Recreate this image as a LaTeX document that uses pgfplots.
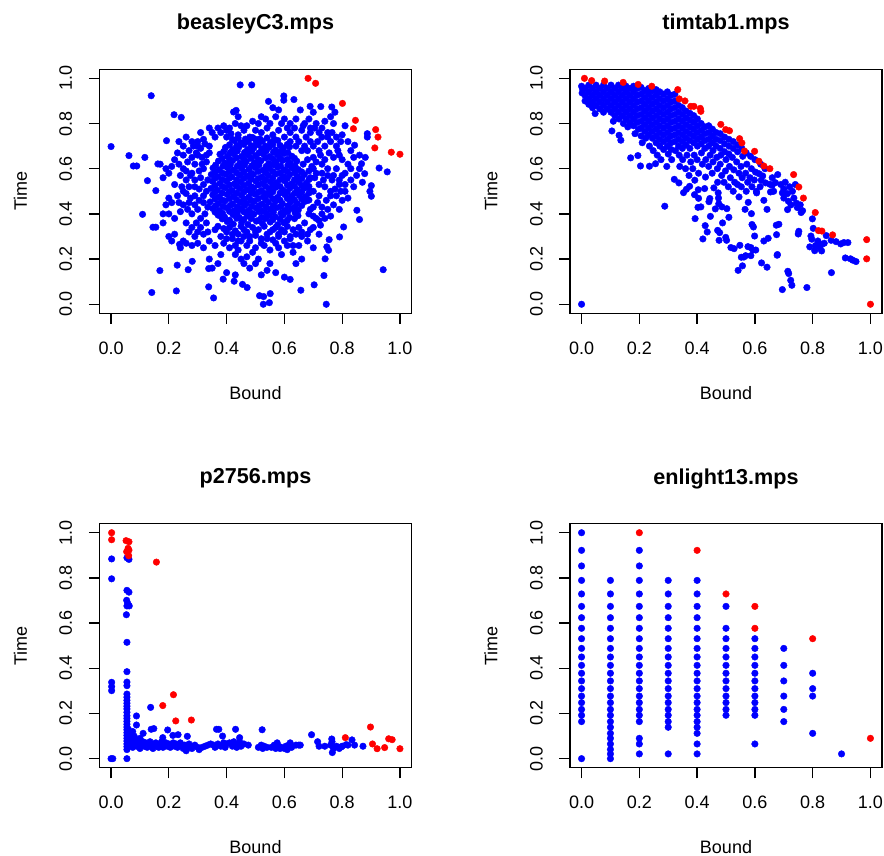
\documentclass[border=0pt]{standalone}
\usepackage{pgfplots}
\pgfplotsset{compat=1.18}
\usepackage{fontspec}
\setmainfont{Liberation Sans}

\pgfplotsset{
  rpanel/.style={
    scale only axis, width=312pt, height=244pt, anchor=south west,
    xmin=-0.04, xmax=1.04, ymin=-0.04, ymax=1.04,
    clip=false,
    axis line style={line width=1.3pt},
    every tick/.style={line width=1.3pt, black},
    tick pos=left, tick align=outside, major tick length=10.7pt,
    xtick={0,0.2,0.4,0.6,0.8,1}, ytick={0,0.2,0.4,0.6,0.8,1},
    xticklabels={0.0,0.2,0.4,0.6,0.8,1.0},
    yticklabels={0.0,0.2,0.4,0.6,0.8,1.0},
    tick label style={font=\fontsize{18}{18}\selectfont},
    xticklabel style={anchor=center, yshift=-24pt},
    yticklabel style={anchor=center, xshift=-23pt, rotate=90},
    xlabel=Bound, ylabel=Time,
    every axis x label/.style={at={(axis description cs:0.5,-0.3254)}, anchor=center,
      font=\fontsize{18}{18}\selectfont},
    every axis y label/.style={at={(axis description cs:-0.2532,0.5)}, anchor=center,
      rotate=90, font=\fontsize{18}{18}\selectfont},
    every axis title/.style={at={(axis description cs:0.5,1.1844)}, anchor=center,
      font=\bfseries\fontsize{21.6}{22}\selectfont},
  },
  bl/.style={only marks, mark=*, mark size=3.3pt, draw=blue, fill=blue,
    mark options={draw=blue, fill=blue}},
  rd/.style={only marks, mark=*, mark size=3.3pt, draw=red, fill=red,
    mark options={draw=red, fill=red}},
}

\begin{document}
\begin{tikzpicture}
\path[use as bounding box] (0pt,0pt) rectangle (884pt,856pt);

% ---------------- beasleyC3 ----------------
\begin{axis}[rpanel, at={(99.5pt,542.7pt)}, title={beasleyC3.mps}]
\addplot[bl] coordinates {
(0,0.698) (0.139,0.923) (0.447,0.971) (0.487,0.971) (0.062,0.658) (0.077,0.612) (0.089,0.612)
(0.117,0.650) (0.126,0.547) (0.109,0.398) (0.141,0.052) (0.145,0.341) (0.155,0.341) (0.155,0.503)
(0.169,0.149) (0.162,0.621) (0.226,0.059) (0.229,0.173) (0.192,0.724) (0.218,0.839) (0.243,0.827)
(0.267,0.153) (0.281,0.190) (0.237,0.265) (0.338,0.077) (0.355,0.028) (0.338,0.158) (0.942,0.153)
(0.745,0.0) (0.527,0.0) (0.548,0.007) (0.551,0.047) (0.514,0.038) (0.528,0.034) (0.657,0.062)
(0.703,0.086) (0.737,0.127) (0.471,0.074) (0.455,0.088) (0.426,0.102) (0.388,0.111) (0.928,0.603)
(0.956,0.586) (0.901,0.525) (0.896,0.500) (0.901,0.478) (0.870,0.540) (0.851,0.416) (0.860,0.375)
(0.805,0.342) (0.791,0.298) (0.755,0.286) (0.747,0.254) (0.753,0.239) (0.741,0.201) (0.887,0.755)
(0.887,0.740) (0.843,0.704) (0.764,0.873) (0.726,0.875) (0.689,0.876) (0.633,0.906) (0.598,0.922)
(0.598,0.903) (0.545,0.898) (0.424,0.851) (0.433,0.858) (0.878,0.578) (0.867,0.622)
(0.19,0.60) (0.20,0.58) (0.21,0.61) (0.18,0.56) (0.17,0.62) (0.22,0.64) (0.23,0.67) (0.25,0.66)
(0.24,0.57) (0.26,0.55) (0.22,0.53) (0.20,0.47) (0.21,0.45) (0.19,0.44) (0.18,0.40) (0.20,0.40)
(0.22,0.38) (0.24,0.41) (0.23,0.48) (0.25,0.50) (0.27,0.52) (0.28,0.58) (0.29,0.62) (0.30,0.70)
(0.28,0.72) (0.26,0.74) (0.31,0.76) (0.30,0.66) (0.31,0.56) (0.29,0.48) (0.27,0.45) (0.28,0.40)
(0.26,0.36) (0.27,0.32) (0.29,0.30) (0.25,0.28) (0.22,0.31) (0.20,0.30) (0.21,0.28) (0.18,0.36)
(0.31,0.34) (0.30,0.42) (0.32,0.45) (0.33,0.50) (0.32,0.60) (0.33,0.66) (0.32,0.73) (0.34,0.70)
(0.30,0.27) (0.32,0.25) (0.34,0.28) (0.33,0.36) (0.28,0.26) (0.24,0.25) (0.26,0.27)
(0.67,0.70) (0.69,0.72) (0.70,0.65) (0.72,0.68) (0.74,0.70) (0.76,0.72) (0.78,0.70) (0.79,0.66)
(0.80,0.64) (0.82,0.62) (0.83,0.60) (0.84,0.65) (0.81,0.58) (0.79,0.55) (0.77,0.57) (0.75,0.60)
(0.73,0.62) (0.71,0.58) (0.69,0.56) (0.68,0.52) (0.70,0.50) (0.72,0.48) (0.74,0.52) (0.76,0.50)
(0.78,0.48) (0.80,0.46) (0.77,0.44) (0.75,0.42) (0.73,0.40) (0.71,0.38) (0.69,0.42) (0.68,0.46)
(0.67,0.36) (0.70,0.34) (0.72,0.37) (0.74,0.38) (0.76,0.39) (0.81,0.50) (0.83,0.55) (0.85,0.57)
(0.86,0.60) (0.84,0.52) (0.82,0.47) (0.79,0.42) (0.66,0.30) (0.68,0.28) (0.70,0.25) (0.72,0.31)
(0.65,0.26) (0.63,0.23) (0.66,0.20) (0.64,0.18) (0.71,0.80) (0.73,0.78) (0.75,0.76) (0.69,0.78)
(0.77,0.80) (0.80,0.75) (0.82,0.72) (0.83,0.68) (0.86,0.66) (0.88,0.65) (0.81,0.79)
(0.36,0.74) (0.38,0.76) (0.40,0.74) (0.42,0.73) (0.44,0.75) (0.46,0.77) (0.48,0.74) (0.50,0.73)
(0.52,0.76) (0.54,0.78) (0.56,0.75) (0.58,0.77) (0.60,0.74) (0.62,0.76) (0.64,0.74) (0.66,0.77)
(0.55,0.80) (0.57,0.83) (0.60,0.82) (0.62,0.80) (0.45,0.79) (0.49,0.81) (0.52,0.83) (0.41,0.78)
(0.37,0.78) (0.64,0.82) (0.67,0.80) (0.47,0.72)
(0.36,0.33) (0.38,0.30) (0.40,0.32) (0.42,0.29) (0.44,0.31) (0.46,0.33) (0.48,0.30) (0.50,0.32)
(0.52,0.29) (0.54,0.31) (0.56,0.33) (0.58,0.30) (0.60,0.32) (0.62,0.29) (0.64,0.31) (0.39,0.27)
(0.41,0.25) (0.43,0.22) (0.45,0.20) (0.44,0.24) (0.47,0.26) (0.49,0.23) (0.51,0.20) (0.53,0.26)
(0.55,0.24) (0.57,0.27) (0.59,0.22) (0.61,0.26) (0.46,0.18) (0.48,0.16) (0.50,0.18) (0.54,0.15)
(0.57,0.14) (0.60,0.12) (0.62,0.11) (0.38,0.22) (0.37,0.18) (0.35,0.16) (0.40,0.14) (0.43,0.13)
(0.52,0.13) (0.55,0.18) (0.36,0.26) (0.34,0.20) (0.47,0.21) (0.45,0.28)
(0.402,0.366) (0.423,0.355) (0.452,0.362) (0.474,0.353) (0.503,0.368) (0.524,0.357) (0.551,0.364) (0.577,0.352) (0.598,0.361)
(0.371,0.394) (0.393,0.386) (0.422,0.397) (0.444,0.384) (0.472,0.392) (0.494,0.398) (0.521,0.385) (0.547,0.393) (0.568,0.387) (0.596,0.396) (0.618,0.384) (0.647,0.392)
(0.352,0.424) (0.374,0.415) (0.401,0.427) (0.426,0.414) (0.449,0.423) (0.477,0.416) (0.502,0.426) (0.523,0.413) (0.552,0.421) (0.574,0.428) (0.601,0.415) (0.627,0.424) (0.648,0.417)
(0.343,0.453) (0.372,0.446) (0.394,0.457) (0.421,0.444) (0.447,0.452) (0.469,0.447) (0.496,0.455) (0.522,0.443) (0.544,0.451) (0.571,0.458) (0.593,0.445) (0.622,0.453) (0.644,0.446) (0.671,0.455)
(0.352,0.484) (0.373,0.475) (0.402,0.486) (0.424,0.477) (0.451,0.483) (0.476,0.474) (0.498,0.487) (0.527,0.476) (0.549,0.484) (0.576,0.473) (0.602,0.485) (0.624,0.478) (0.652,0.482) (0.674,0.476)
(0.346,0.513) (0.368,0.505) (0.396,0.516) (0.419,0.504) (0.446,0.512) (0.471,0.507) (0.494,0.515) (0.521,0.503) (0.547,0.511) (0.569,0.517) (0.596,0.505) (0.619,0.514) (0.646,0.506) (0.668,0.513)
(0.351,0.544) (0.377,0.535) (0.399,0.546) (0.427,0.533) (0.448,0.542) (0.476,0.536) (0.501,0.545) (0.524,0.534) (0.552,0.543) (0.573,0.537) (0.601,0.546) (0.626,0.534) (0.649,0.542) (0.676,0.536)
(0.347,0.574) (0.369,0.565) (0.397,0.576) (0.418,0.564) (0.446,0.572) (0.472,0.566) (0.493,0.575) (0.522,0.563) (0.544,0.571) (0.571,0.577) (0.597,0.565) (0.618,0.573) (0.646,0.566) (0.669,0.574)
(0.353,0.603) (0.374,0.595) (0.402,0.606) (0.423,0.594) (0.451,0.602) (0.477,0.597) (0.499,0.605) (0.526,0.593) (0.548,0.601) (0.576,0.607) (0.599,0.595) (0.627,0.603) (0.648,0.596)
(0.372,0.634) (0.394,0.625) (0.421,0.636) (0.446,0.624) (0.468,0.632) (0.497,0.626) (0.519,0.635) (0.546,0.623) (0.572,0.631) (0.594,0.637) (0.621,0.625) (0.643,0.633)
(0.377,0.664) (0.403,0.655) (0.424,0.666) (0.452,0.654) (0.473,0.662) (0.501,0.657) (0.527,0.665) (0.549,0.653) (0.576,0.661) (0.598,0.667) (0.626,0.655)
(0.396,0.694) (0.421,0.685) (0.443,0.696) (0.472,0.684) (0.494,0.692) (0.522,0.687) (0.547,0.695) (0.569,0.683) (0.597,0.691) (0.618,0.697)
(0.427,0.724) (0.449,0.715) (0.476,0.726) (0.503,0.714) (0.524,0.722) (0.552,0.716) (0.577,0.725)
};
\addplot[bl] coordinates {
(0.385,0.378) (0.41,0.372) (0.435,0.381) (0.46,0.375) (0.485,0.379) (0.51,0.371) (0.535,0.38) (0.56,0.374) (0.585,0.377) (0.61,0.372) (0.635,0.379)
(0.36,0.408) (0.386,0.403) (0.41,0.411) (0.437,0.405) (0.46,0.409) (0.488,0.402) (0.512,0.41) (0.537,0.404) (0.562,0.408) (0.588,0.403) (0.612,0.41) (0.637,0.405)
(0.362,0.436) (0.388,0.432) (0.413,0.438) (0.437,0.431) (0.462,0.437) (0.487,0.433) (0.512,0.436) (0.537,0.43) (0.562,0.438) (0.587,0.432) (0.612,0.436) (0.637,0.431) (0.66,0.437)
(0.36,0.466) (0.385,0.461) (0.41,0.468) (0.435,0.462) (0.46,0.466) (0.485,0.46) (0.51,0.468) (0.535,0.463) (0.56,0.467) (0.585,0.461) (0.61,0.468) (0.635,0.462) (0.66,0.466) (0.685,0.461)
(0.36,0.497) (0.385,0.492) (0.41,0.498) (0.435,0.491) (0.46,0.497) (0.485,0.493) (0.51,0.496) (0.535,0.49) (0.56,0.498) (0.585,0.492) (0.61,0.497) (0.635,0.491) (0.66,0.496) (0.685,0.492)
(0.36,0.526) (0.385,0.521) (0.41,0.528) (0.435,0.522) (0.46,0.526) (0.485,0.52) (0.51,0.528) (0.535,0.523) (0.56,0.527) (0.585,0.521) (0.61,0.528) (0.635,0.522) (0.66,0.526) (0.685,0.521)
(0.36,0.557) (0.385,0.552) (0.41,0.558) (0.435,0.551) (0.46,0.557) (0.485,0.553) (0.51,0.556) (0.535,0.55) (0.56,0.558) (0.585,0.552) (0.61,0.557) (0.635,0.551) (0.66,0.556) (0.685,0.552)
(0.36,0.586) (0.385,0.581) (0.41,0.588) (0.435,0.582) (0.46,0.586) (0.485,0.58) (0.51,0.588) (0.535,0.583) (0.56,0.587) (0.585,0.581) (0.61,0.588) (0.635,0.582) (0.66,0.586)
(0.362,0.616) (0.388,0.612) (0.413,0.618) (0.437,0.611) (0.462,0.617) (0.487,0.613) (0.512,0.616) (0.537,0.61) (0.562,0.618) (0.587,0.612) (0.612,0.616) (0.637,0.611)
(0.385,0.646) (0.41,0.641) (0.435,0.648) (0.46,0.642) (0.485,0.646) (0.51,0.64) (0.535,0.648) (0.56,0.643) (0.585,0.647) (0.61,0.641) (0.635,0.646)
(0.39,0.676) (0.412,0.671) (0.437,0.678) (0.462,0.672) (0.487,0.676) (0.512,0.67) (0.537,0.678) (0.562,0.673) (0.587,0.677) (0.612,0.671)
(0.41,0.706) (0.435,0.701) (0.46,0.708) (0.485,0.702) (0.51,0.706) (0.535,0.7) (0.56,0.708) (0.585,0.703) (0.61,0.707)
(0.44,0.736) (0.465,0.731) (0.49,0.738) (0.515,0.732) (0.54,0.736) (0.565,0.73)
(0.665,0.62) (0.68,0.64) (0.695,0.61) (0.71,0.63) (0.725,0.66) (0.74,0.64) (0.755,0.67) (0.77,0.65)
(0.785,0.68) (0.68,0.68) (0.70,0.70) (0.715,0.72) (0.73,0.74) (0.75,0.74) (0.765,0.76) (0.78,0.74)
(0.795,0.72) (0.675,0.74) (0.69,0.76) (0.705,0.78) (0.72,0.76) (0.74,0.81) (0.76,0.83) (0.775,0.85)
(0.70,0.85) (0.685,0.82) (0.655,0.86) (0.665,0.79) (0.65,0.72) (0.66,0.68) (0.64,0.70) (0.62,0.72)
(0.635,0.78) (0.61,0.78) (0.59,0.80) (0.58,0.86) (0.56,0.87) (0.535,0.82) (0.51,0.80) (0.50,0.77)
(0.47,0.79) (0.43,0.80) (0.44,0.83) (0.40,0.77) (0.39,0.79) (0.35,0.76) (0.34,0.78) (0.415,0.755)
(0.685,0.40) (0.70,0.43) (0.715,0.45) (0.73,0.43) (0.745,0.46) (0.76,0.48) (0.775,0.51) (0.79,0.53)
(0.765,0.55) (0.75,0.57) (0.735,0.55) (0.72,0.53) (0.705,0.56) (0.69,0.50) (0.685,0.59) (0.70,0.60)
(0.73,0.58) (0.78,0.60) (0.80,0.57) (0.795,0.50) (0.81,0.53) (0.70,0.39) (0.725,0.35) (0.69,0.33) (0.68,0.31)
(0.235,0.62) (0.25,0.60) (0.265,0.63) (0.28,0.65) (0.295,0.67) (0.31,0.69) (0.325,0.71) (0.27,0.68)
(0.285,0.70) (0.30,0.72) (0.315,0.62) (0.305,0.59) (0.29,0.55) (0.275,0.57) (0.26,0.59) (0.245,0.52)
(0.26,0.49) (0.275,0.47) (0.29,0.44) (0.305,0.46) (0.32,0.48) (0.335,0.55) (0.32,0.53) (0.305,0.51)
(0.29,0.52) (0.325,0.40) (0.31,0.38) (0.295,0.36) (0.28,0.34) (0.32,0.31) (0.335,0.32) (0.30,0.32)
(0.265,0.42) (0.25,0.44) (0.235,0.45) (0.335,0.43) (0.33,0.63) (0.315,0.65) (0.34,0.67) (0.25,0.70) (0.235,0.72)
(0.37,0.345) (0.39,0.335) (0.41,0.34) (0.43,0.325) (0.45,0.345) (0.47,0.32) (0.49,0.34) (0.51,0.33)
(0.53,0.345) (0.55,0.32) (0.57,0.34) (0.59,0.33) (0.61,0.345) (0.63,0.33) (0.65,0.34) (0.42,0.31)
(0.46,0.30) (0.50,0.305) (0.54,0.29) (0.58,0.31) (0.62,0.30) (0.66,0.32) (0.40,0.29) (0.44,0.28)
(0.48,0.28) (0.52,0.27) (0.56,0.285) (0.60,0.28) (0.43,0.26) (0.50,0.25) (0.58,0.25) (0.63,0.26)
};
\addplot[rd] coordinates {
(0.682,1.0) (0.708,0.978) (0.801,0.889) (0.846,0.814) (0.839,0.777) (0.916,0.773) (0.924,0.740)
(0.913,0.692) (0.970,0.673) (1.0,0.664)
};
\end{axis}

% ---------------- timtab1 ----------------
\begin{axis}[rpanel, at={(570pt,542.7pt)}, title={timtab1.mps}]
\addplot[bl] coordinates {
(0,0) (0.000,0.965) (0.002,0.935) (0.004,0.95)
(0.012,0.955) (0.012,0.925) (0.012,0.90)
(0.025,0.97) (0.025,0.94) (0.025,0.91) (0.025,0.885)
(0.038,0.955) (0.038,0.925) (0.038,0.895) (0.038,0.87)
(0.05,0.97) (0.05,0.94) (0.05,0.91) (0.05,0.88) (0.047,0.844)
(0.063,0.955) (0.063,0.925) (0.063,0.895) (0.063,0.865)
(0.076,0.97) (0.076,0.94) (0.076,0.91) (0.076,0.88) (0.076,0.85)
(0.089,0.955) (0.089,0.925) (0.089,0.895) (0.089,0.865)
(0.102,0.97) (0.102,0.94) (0.102,0.91) (0.102,0.88) (0.102,0.85) (0.105,0.767) (0.11,0.81)
(0.115,0.955) (0.115,0.925) (0.115,0.895) (0.115,0.865) (0.115,0.835)
(0.128,0.97) (0.128,0.94) (0.128,0.91) (0.128,0.88) (0.128,0.85) (0.130,0.748) (0.136,0.726) (0.13,0.82)
(0.141,0.955) (0.141,0.925) (0.141,0.895) (0.141,0.865) (0.141,0.835) (0.145,0.80)
(0.154,0.965) (0.154,0.94) (0.154,0.91) (0.154,0.88) (0.154,0.85) (0.154,0.82) (0.16,0.785)
(0.167,0.955) (0.167,0.925) (0.167,0.895) (0.167,0.865) (0.167,0.835) (0.170,0.648) (0.167,0.805)
(0.18,0.965) (0.18,0.94) (0.18,0.91) (0.18,0.88) (0.18,0.85) (0.18,0.82) (0.18,0.79) (0.185,0.755)
(0.193,0.955) (0.193,0.925) (0.193,0.895) (0.193,0.865) (0.193,0.835) (0.193,0.805) (0.195,0.658) (0.197,0.775)
(0.206,0.96) (0.206,0.93) (0.206,0.90) (0.206,0.87) (0.206,0.84) (0.206,0.81) (0.206,0.78) (0.206,0.745) (0.204,0.612) (0.21,0.715)
(0.219,0.945) (0.219,0.915) (0.219,0.885) (0.219,0.855) (0.219,0.825) (0.219,0.795) (0.219,0.765) (0.222,0.735)
(0.232,0.955) (0.232,0.93) (0.232,0.90) (0.232,0.87) (0.232,0.84) (0.232,0.81) (0.232,0.78) (0.232,0.75) (0.235,0.611) (0.235,0.70)
(0.245,0.945) (0.245,0.915) (0.245,0.885) (0.245,0.855) (0.245,0.825) (0.245,0.795) (0.245,0.765) (0.245,0.735) (0.248,0.68)
(0.258,0.95) (0.258,0.925) (0.258,0.895) (0.258,0.865) (0.258,0.835) (0.258,0.805) (0.258,0.775) (0.258,0.745) (0.258,0.715) (0.256,0.622) (0.262,0.66)
(0.271,0.94) (0.271,0.91) (0.271,0.88) (0.271,0.85) (0.271,0.82) (0.271,0.79) (0.271,0.76) (0.271,0.73) (0.271,0.70) (0.275,0.64)
(0.284,0.93) (0.284,0.90) (0.284,0.87) (0.284,0.84) (0.284,0.81) (0.284,0.78) (0.284,0.75) (0.284,0.72) (0.284,0.685) (0.288,0.434)
(0.297,0.94) (0.297,0.91) (0.297,0.88) (0.297,0.85) (0.297,0.82) (0.297,0.79) (0.297,0.76) (0.297,0.73) (0.297,0.70) (0.295,0.61) (0.30,0.665)
(0.31,0.925) (0.31,0.895) (0.31,0.865) (0.31,0.835) (0.31,0.805) (0.31,0.775) (0.31,0.745) (0.31,0.715) (0.31,0.685) (0.312,0.64)
(0.323,0.93) (0.323,0.90) (0.323,0.87) (0.323,0.84) (0.323,0.81) (0.323,0.78) (0.323,0.75) (0.323,0.72) (0.321,0.553) (0.325,0.68)
(0.336,0.88) (0.336,0.85) (0.336,0.82) (0.336,0.79) (0.336,0.76) (0.336,0.73) (0.336,0.70) (0.337,0.537) (0.338,0.66) (0.34,0.61)
(0.349,0.87) (0.349,0.84) (0.349,0.81) (0.349,0.78) (0.349,0.75) (0.349,0.72) (0.349,0.69) (0.353,0.494) (0.35,0.64)
(0.362,0.855) (0.362,0.825) (0.362,0.795) (0.362,0.765) (0.362,0.735) (0.362,0.705) (0.363,0.509) (0.365,0.66) (0.36,0.60)
(0.375,0.845) (0.375,0.815) (0.375,0.785) (0.375,0.755) (0.375,0.725) (0.375,0.69) (0.374,0.522) (0.378,0.63) (0.372,0.57)
(0.388,0.835) (0.388,0.805) (0.388,0.775) (0.388,0.745) (0.388,0.715) (0.392,0.549) (0.391,0.485) (0.39,0.66) (0.393,0.379) (0.385,0.60)
(0.401,0.82) (0.401,0.79) (0.401,0.76) (0.401,0.73) (0.401,0.70) (0.404,0.507) (0.405,0.469) (0.403,0.429) (0.40,0.64) (0.405,0.58)
(0.414,0.80) (0.414,0.77) (0.414,0.74) (0.414,0.71) (0.413,0.431) (0.415,0.67) (0.418,0.62) (0.420,0.289)
(0.427,0.785) (0.427,0.755) (0.427,0.725) (0.427,0.69) (0.426,0.512) (0.429,0.563) (0.428,0.348) (0.43,0.64)
(0.44,0.79) (0.44,0.76) (0.44,0.73) (0.44,0.70) (0.441,0.454) (0.444,0.468) (0.446,0.389) (0.435,0.320) (0.44,0.61) (0.445,0.66)
(0.453,0.775) (0.453,0.745) (0.453,0.715) (0.458,0.515) (0.455,0.68) (0.452,0.58) (0.455,0.63)
(0.466,0.76) (0.466,0.73) (0.466,0.70) (0.471,0.540) (0.473,0.493) (0.474,0.470) (0.475,0.445) (0.463,0.422) (0.471,0.327) (0.468,0.65) (0.47,0.60)
(0.48,0.755) (0.48,0.725) (0.48,0.69) (0.486,0.431) (0.488,0.360) (0.478,0.317) (0.476,0.283) (0.482,0.66) (0.485,0.57) (0.48,0.62)
(0.495,0.74) (0.495,0.71) (0.499,0.296) (0.502,0.283) (0.503,0.423) (0.495,0.675) (0.50,0.64) (0.493,0.54) (0.498,0.59)
(0.51,0.73) (0.51,0.70) (0.510,0.385) (0.517,0.251) (0.51,0.665) (0.512,0.61) (0.515,0.56) (0.508,0.52)
(0.525,0.72) (0.528,0.246) (0.525,0.69) (0.522,0.65) (0.527,0.595) (0.53,0.54) (0.525,0.50)
(0.54,0.705) (0.548,0.261) (0.542,0.150) (0.54,0.675) (0.537,0.63) (0.545,0.58) (0.54,0.53) (0.545,0.475)
(0.553,0.208) (0.557,0.170) (0.555,0.69) (0.558,0.655) (0.552,0.61) (0.556,0.56) (0.553,0.52)
(0.562,0.209) (0.568,0.215) (0.576,0.255) (0.566,0.420) (0.577,0.451) (0.57,0.67) (0.572,0.62) (0.568,0.58) (0.575,0.54) (0.57,0.50)
(0.586,0.251) (0.593,0.240) (0.586,0.215) (0.588,0.401) (0.590,0.353) (0.595,0.342) (0.599,0.302) (0.585,0.655) (0.588,0.60) (0.583,0.56) (0.59,0.52)
(0.603,0.240) (0.60,0.64) (0.602,0.585) (0.598,0.55) (0.605,0.50) (0.606,0.493)
(0.614,0.578) (0.623,0.183) (0.62,0.62) (0.622,0.549) (0.618,0.52)
(0.627,0.568) (0.631,0.280) (0.631,0.460) (0.642,0.164) (0.637,0.537) (0.642,0.420) (0.646,0.292) (0.635,0.60)
(0.652,0.531) (0.654,0.497) (0.660,0.527) (0.671,0.538) (0.679,0.574) (0.677,0.217) (0.674,0.350) (0.683,0.354) (0.675,0.308) (0.678,0.220) (0.66,0.56) (0.665,0.50)
(0.695,0.493) (0.713,0.490) (0.716,0.456) (0.713,0.419) (0.744,0.447) (0.747,0.428) (0.760,0.406) (0.752,0.323) (0.750,0.311) (0.765,0.414)
(0.714,0.146) (0.717,0.136) (0.724,0.106) (0.728,0.084) (0.695,0.065) (0.780,0.074) (0.69,0.53) (0.70,0.51) (0.705,0.54) (0.72,0.52)
(0.73,0.50) (0.735,0.47) (0.74,0.53) (0.725,0.44) (0.757,0.44) (0.70,0.47)
(0.799,0.378) (0.802,0.336) (0.794,0.302) (0.797,0.288) (0.790,0.254) (0.807,0.237) (0.818,0.280) (0.829,0.264) (0.831,0.236)
(0.847,0.304) (0.864,0.283) (0.881,0.277) (0.897,0.267) (0.908,0.273) (0.922,0.273) (0.913,0.205) (0.931,0.201) (0.939,0.195)
(0.950,0.189) (0.865,0.140) (0.81,0.26) (0.825,0.25) (0.84,0.27)
};
\addplot[rd] coordinates {
(0.010,1.0) (0.035,0.990) (0.080,0.988) (0.144,0.982) (0.196,0.973) (0.243,0.965) (0.333,0.950)
(0.338,0.909) (0.358,0.900) (0.378,0.876) (0.389,0.876) (0.411,0.867) (0.413,0.854) (0.482,0.796)
(0.499,0.773) (0.512,0.768) (0.547,0.733) (0.555,0.714) (0.564,0.678) (0.599,0.677) (0.614,0.633)
(0.631,0.612) (0.652,0.600) (0.734,0.574) (0.752,0.519) (0.768,0.470) (0.809,0.406) (0.820,0.326)
(0.832,0.324) (0.869,0.307) (0.987,0.286) (0.987,0.201) (1.0,0.0)
};
\end{axis}

% ---------------- p2756 ----------------
\begin{axis}[rpanel, at={(99.5pt,88.3pt)}, title={p2756.mps}]
\addplot[bl] coordinates {
(0.002,0.884) (0.002,0.796) (0.002,0.338) (0.002,0.319) (0.002,0.301) (0,0) (0.006,0)
(0.055,0.889) (0.062,0.882) (0.055,0.745) (0.062,0.737) (0.054,0.701) (0.058,0.687) (0.055,0.676)
(0.063,0.676) (0.053,0.637) (0.055,0.515) (0.055,0.385) (0.055,0.339) (0.055,0.323)
(0.055,0.286) (0.055,0.272) (0.055,0.258) (0.055,0.245) (0.055,0.232) (0.055,0.22) (0.055,0.205)
(0.055,0.19) (0.055,0.178) (0.055,0.165) (0.055,0.152) (0.055,0.14) (0.055,0.128) (0.055,0.115)
(0.055,0.103) (0.055,0.09) (0.055,0.078) (0.055,0.065) (0.055,0.053) (0.055,0.04) (0.06,0.10)
(0.06,0.07) (0.06,0.13) (0.055,0.0)
(0.065,0.06) (0.07,0.075) (0.075,0.05) (0.08,0.065) (0.085,0.08) (0.09,0.055) (0.095,0.07) (0.10,0.045)
(0.105,0.065) (0.11,0.075) (0.115,0.055) (0.12,0.07) (0.125,0.05) (0.13,0.065) (0.135,0.075) (0.14,0.055)
(0.145,0.045) (0.15,0.065) (0.155,0.07) (0.16,0.055) (0.165,0.05) (0.17,0.065) (0.175,0.075) (0.18,0.05)
(0.185,0.06) (0.19,0.07) (0.195,0.055) (0.20,0.065) (0.205,0.05) (0.21,0.06) (0.215,0.07) (0.22,0.055)
(0.225,0.065) (0.23,0.05) (0.235,0.06) (0.24,0.07) (0.245,0.055) (0.25,0.045) (0.255,0.06) (0.26,0.035)
(0.265,0.05) (0.27,0.065) (0.275,0.055) (0.28,0.045) (0.29,0.06) (0.30,0.05) (0.305,0.04) (0.315,0.05)
(0.325,0.055) (0.335,0.06) (0.345,0.065) (0.355,0.06) (0.36,0.05) (0.37,0.065) (0.38,0.055) (0.39,0.07)
(0.395,0.05) (0.40,0.065) (0.41,0.07) (0.42,0.055) (0.425,0.075) (0.43,0.06) (0.435,0.05) (0.44,0.065)
(0.445,0.075) (0.45,0.055) (0.46,0.065) (0.475,0.06)
(0.51,0.05) (0.52,0.06) (0.525,0.045) (0.53,0.055) (0.54,0.05) (0.555,0.05) (0.565,0.06) (0.57,0.045)
(0.575,0.07) (0.58,0.055) (0.585,0.045) (0.59,0.05) (0.60,0.045) (0.605,0.055) (0.61,0.04) (0.615,0.06)
(0.62,0.07) (0.625,0.05) (0.64,0.06) (0.65,0.06) (0.655,0.06)
(0.72,0.055) (0.74,0.055) (0.76,0.06) (0.77,0.045) (0.78,0.055) (0.765,0.075) (0.79,0.045) (0.80,0.055) (0.82,0.06)
(0.088,0.189) (0.088,0.149) (0.137,0.227) (0.111,0.112) (0.139,0.130) (0.148,0.133) (0.196,0.127)
(0.179,0.093) (0.214,0.103) (0.232,0.106) (0.264,0.099) (0.365,0.130) (0.373,0.130) (0.386,0.100)
(0.431,0.130) (0.445,0.093) (0.523,0.128) (0.694,0.106) (0.715,0.075) (0.764,0.087) (0.766,0.027)
(0.834,0.083) (0.872,0.055) (0.843,0.060) (0.814,0.062) (0.797,0.052)
(0.075,0.12) (0.07,0.09) (0.08,0.10) (0.10,0.09) (0.068,0.11)
};
\addplot[rd] coordinates {
(0.002,1.0) (0.002,0.969) (0.052,0.965) (0.062,0.960) (0.059,0.931) (0.062,0.923) (0.054,0.916)
(0.061,0.898) (0.157,0.870) (0.179,0.235) (0.216,0.283) (0.224,0.167) (0.278,0.171) (0.898,0.140)
(0.811,0.093) (0.905,0.065) (0.921,0.044) (0.947,0.049) (0.961,0.088) (0.973,0.084) (1.0,0.044)
};
\end{axis}

% ---------------- enlight13 ----------------
\begin{axis}[rpanel, at={(570pt,88.3pt)}, title={enlight13.mps}]
\addplot[bl] coordinates {
(0,0.922) (0,0.853) (0,0.789) (0,0.729) (0,0.674) (0,0.624) (0,0.577) (0,0.531) (0,0.488) (0,0.450)
(0,0.413) (0,0.378) (0,0.344) (0,0.310) (0,0.277) (0,0.248) (0,0.218) (0,0.192) (0,0.164) (0,0.000) (0,1.000)
(0.1,0.789) (0.1,0.729) (0.1,0.674) (0.1,0.624) (0.1,0.577) (0.1,0.531) (0.1,0.488) (0.1,0.450) (0.1,0.413)
(0.1,0.378) (0.1,0.344) (0.1,0.310) (0.1,0.277) (0.1,0.248) (0.1,0.218) (0.1,0.192) (0.1,0.164) (0.1,0.139)
(0.1,0.112) (0.1,0.090) (0.1,0.065) (0.1,0.041) (0.1,0.021) (0.1,0.000)
(0.2,0.922) (0.2,0.853) (0.2,0.789) (0.2,0.729) (0.2,0.674) (0.2,0.624) (0.2,0.577) (0.2,0.531) (0.2,0.488)
(0.2,0.450) (0.2,0.413) (0.2,0.378) (0.2,0.344) (0.2,0.310) (0.2,0.277) (0.2,0.248) (0.2,0.218) (0.2,0.192)
(0.2,0.164) (0.2,0.090) (0.2,0.065) (0.2,0.021)
(0.3,0.789) (0.3,0.729) (0.3,0.674) (0.3,0.624) (0.3,0.577) (0.3,0.531) (0.3,0.488) (0.3,0.450) (0.3,0.413)
(0.3,0.378) (0.3,0.344) (0.3,0.310) (0.3,0.277) (0.3,0.248) (0.3,0.218) (0.3,0.192) (0.3,0.164) (0.3,0.139) (0.3,0.021)
(0.4,0.789) (0.4,0.729) (0.4,0.674) (0.4,0.624) (0.4,0.577) (0.4,0.531) (0.4,0.488) (0.4,0.450) (0.4,0.413)
(0.4,0.378) (0.4,0.344) (0.4,0.310) (0.4,0.277) (0.4,0.248) (0.4,0.218) (0.4,0.192) (0.4,0.164) (0.4,0.139)
(0.4,0.112) (0.4,0.065) (0.4,0.021)
(0.5,0.674) (0.5,0.577) (0.5,0.531) (0.5,0.488) (0.5,0.450) (0.5,0.413) (0.5,0.378) (0.5,0.344) (0.5,0.310)
(0.5,0.277) (0.5,0.248) (0.5,0.218) (0.5,0.192)
(0.6,0.531) (0.6,0.488) (0.6,0.450) (0.6,0.413) (0.6,0.378) (0.6,0.344) (0.6,0.310) (0.6,0.277) (0.6,0.248)
(0.6,0.218) (0.6,0.192) (0.6,0.065)
(0.7,0.488) (0.7,0.413) (0.7,0.344) (0.7,0.277) (0.7,0.218) (0.7,0.164)
(0.8,0.378) (0.8,0.310) (0.8,0.277) (0.8,0.112)
(0.9,0.021)
};
\addplot[rd] coordinates {
(0.2,1.000) (0.4,0.922) (0.5,0.729) (0.6,0.674) (0.6,0.577) (0.8,0.531) (1.0,0.090)
};
\end{axis}
\end{tikzpicture}
\end{document}
